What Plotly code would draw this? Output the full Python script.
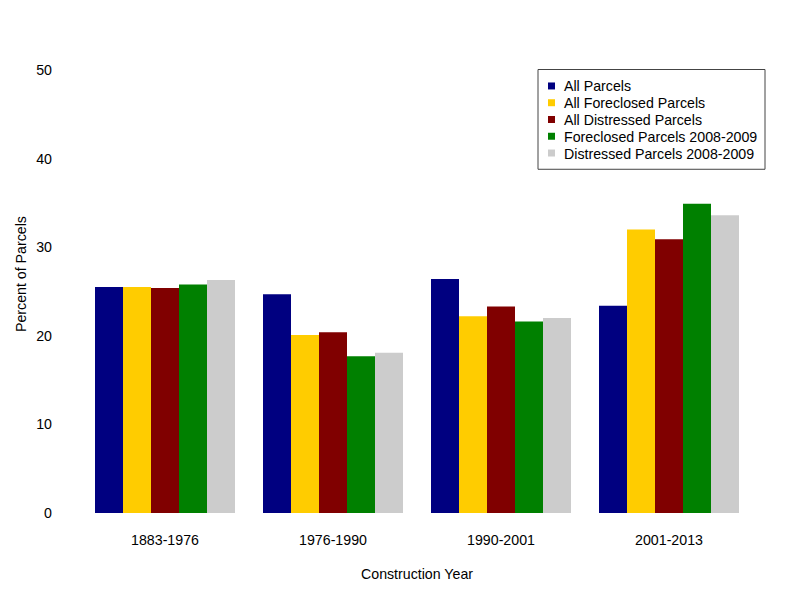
import plotly.graph_objects as go

categories = ["1883-1976", "1976-1990", "1990-2001", "2001-2013"]
series_names = [
    "All Parcels",
    "All Foreclosed Parcels",
    "All Distressed Parcels",
    "Foreclosed Parcels 2008-2009",
    "Distressed Parcels 2008-2009",
]
all_parcels = [25.5, 24.7, 26.4, 23.4]
all_foreclosed = [25.5, 20.1, 22.2, 32.0]
all_distressed = [25.4, 20.4, 23.3, 30.9]
foreclosed_0809 = [25.8, 17.7, 21.6, 34.9]
distressed_0809 = [26.3, 18.1, 22.0, 33.6]
series_values = [all_parcels, all_foreclosed, all_distressed, foreclosed_0809, distressed_0809]
colors = ["#000080", "#FFCC00", "#800000", "#008000", "#CCCCCC"]
y_ticks = [0, 10, 20, 30, 40, 50]

FONT = "Liberation Sans, Arial, sans-serif"
FS = 14.2

# page offset (body margin) and plot area in page pixels
OFF = 8
L, R, T, B = 81, 753, 69.5, 513.5
W, H = R - L, B - T

def px(x):
    return (x - L) / W

def py(y):
    return (B - y) / H

fig = go.Figure()
for name, vals, col in zip(series_names, series_values, colors):
    fig.add_trace(go.Bar(x=categories, y=vals, name=name, marker=dict(color=col, line=dict(width=0)),
                         showlegend=False))

shapes = [dict(type="rect", xref="paper", yref="paper", x0=px(538), x1=px(765), y0=py(169), y1=py(69),
               line=dict(color="#444444", width=1), fillcolor="white", layer="above")]
annotations = []
row0, step = 85.5, 16.8
for i, (name, col) in enumerate(zip(series_names, colors)):
    cy = row0 + i * step
    shapes.append(dict(type="rect", xref="paper", yref="paper", x0=px(548), x1=px(555),
                       y0=py(cy + 3.5), y1=py(cy - 3.5), line=dict(width=0), fillcolor=col, layer="above"))
    annotations.append(dict(text=name, xref="paper", yref="paper", x=px(562), y=py(cy + 0.5),
                            xanchor="left", yanchor="middle", showarrow=False,
                            font=dict(family=FONT, size=FS, color="#000000")))

annotations.append(dict(text="Percent of Parcels", xref="paper", yref="paper", x=px(21), y=py(274),
                        xanchor="center", yanchor="middle", textangle=-90, showarrow=False,
                        font=dict(family=FONT, size=FS, color="#000000")))

fig.update_layout(
    width=800 - OFF, height=600 - OFF,
    margin=dict(l=L - OFF, r=800 - R, t=T - OFF, b=600 - B, pad=0),
    paper_bgcolor="white", plot_bgcolor="white",
    barmode="group", bargap=1/6, bargroupgap=0,
    font=dict(family=FONT, size=FS, color="#000000"),
    shapes=shapes, annotations=annotations,
    showlegend=False,
    xaxis=dict(showgrid=False, zeroline=False, showline=False, ticks="",
               ticklabelstandoff=17,
               title=dict(text="Construction Year", standoff=21, font=dict(size=FS))),
    yaxis=dict(range=[0, 50], tickvals=y_ticks, showgrid=False, zeroline=False, showline=False,
               ticks="", ticklabelstandoff=28),
)

fig.write_html("out.html")
